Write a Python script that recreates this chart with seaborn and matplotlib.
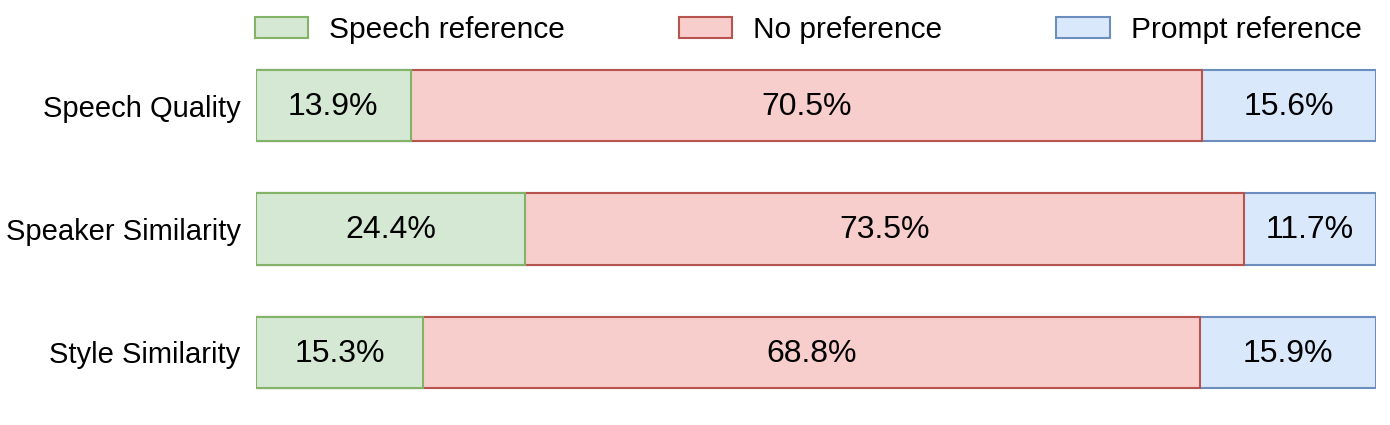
import matplotlib
matplotlib.use("Agg")
import matplotlib.pyplot as plt
import seaborn as sns
import numpy as np
import pandas as pd
from matplotlib.patches import Patch

categories = ["Speech Quality", "Speaker Similarity", "Style Similarity"]
series_names = ["Speech reference", "No preference", "Prompt reference"]
# drawn segment widths (percent of bar)
speech_ref = [13.8, 24.0, 14.9]
no_pref = [70.7, 64.2, 69.4]
prompt_ref = [15.5, 11.8, 15.7]
# printed labels
speech_lbl = ["13.9%", "24.4%", "15.3%"]
no_pref_lbl = ["70.5%", "73.5%", "68.8%"]
prompt_lbl = ["15.6%", "11.7%", "15.9%"]

fills = ["#d5e8d4", "#f8cecc", "#dae8fc"]
edges = ["#82b366", "#b85450", "#6c8ebf"]

sns.set_theme(style="white")
plt.rcParams["font.family"] = ["Liberation Sans", "DejaVu Sans"]
plt.rcParams["text.color"] = "black"
plt.rcParams["ytick.color"] = "black"
plt.rcParams["ytick.labelcolor"] = "black"

fig = plt.figure(figsize=(13.9, 4.25), dpi=100)
ax = fig.add_axes([256 / 1390, 1 - 414 / 425, 1120 / 1390, 370 / 425])

g = np.array(speech_ref)
r = np.array(no_pref)
b = np.array(prompt_ref)
cum_g = g
cum_r = g + r
cum_b = g + r + b

df = pd.DataFrame({"cat": categories, "g": cum_g, "r": cum_r, "b": cum_b})
for col, fc, ec in [("b", fills[2], edges[2]), ("r", fills[1], edges[1]), ("g", fills[0], edges[0])]:
    sns.barplot(data=df, x=col, y="cat", orient="h", color=fc, edgecolor=ec,
                linewidth=1.5, width=0.58, saturation=1, ax=ax, errorbar=None)

for i in range(len(categories)):
    starts = [0, cum_g[i], cum_r[i]]
    widths = [g[i], r[i], b[i]]
    labels = [speech_lbl[i], no_pref_lbl[i], prompt_lbl[i]]
    for s, w, lab in zip(starts, widths, labels):
        ax.text(s + w / 2, i + 0.01, lab, ha="center", va="center", fontsize=23, color="black")

ax.set_xlim(0, 100)
ax.set_ylim(2.5, -0.5)
ax.set_xlabel("")
ax.set_ylabel("")
ax.set_xticks([])
ax.tick_params(axis="y", length=0, pad=11, labelsize=21, labelcolor="black")
for s in ax.spines.values():
    s.set_visible(False)

handles = [Patch(facecolor=fills[k], edgecolor=edges[k], linewidth=1.5) for k in range(3)]
fig.legend(handles, series_names, loc="center", bbox_to_anchor=(808 / 1390, 1 - 30 / 425),
           ncol=3, frameon=False, fontsize=21.5, handlelength=1.8, handleheight=0.7,
           handletextpad=0.7, columnspacing=3.8, borderpad=0, borderaxespad=0,
           labelcolor="black")

fig.savefig("out.png", dpi=100)
